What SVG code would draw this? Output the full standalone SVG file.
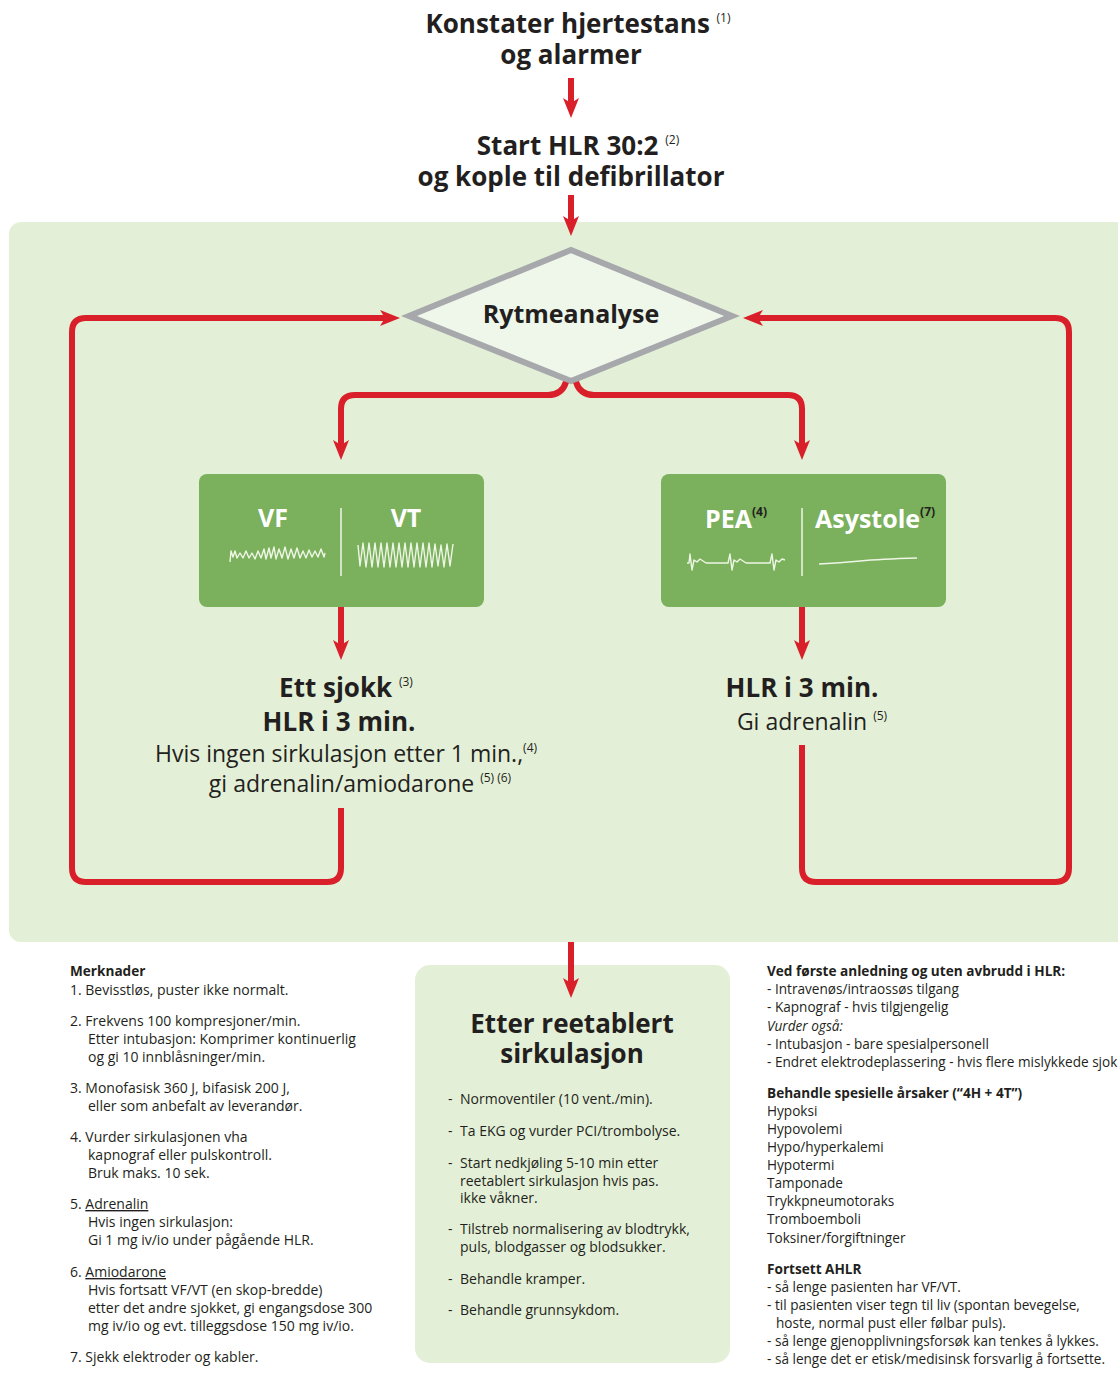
<svg xmlns="http://www.w3.org/2000/svg" width="1118" height="1384" viewBox="0 0 1118 1384">
  <style>
    text { font-family: "Open Sans", "Noto Sans", "Liberation Sans", sans-serif; fill: #231f20; }
    .hc { font-size: 26px; font-weight: 700; text-anchor: middle; }
    .sub { font-size: 23px; text-anchor: middle; }
    .sup { font-size: 12px; font-weight: 400; }
    .note { font-size: 14px; }
    .rn { font-size: 13.6px; }
    .nb { font-size: 13.6px; font-weight: 700; }
    .ni { font-size: 13.6px; font-style: italic; }
    .box { fill: #7bb05c; }
    .lbl { font-size: 25px; font-weight: 700; fill: #ffffff; }
    .lsup { font-size: 12px; font-weight: 700; fill: #231f20; }
    .ecg { fill: none; stroke: #eef6e6; stroke-width: 1.4; stroke-linejoin: round; }
    .flow { fill: none; stroke: #d9202a; stroke-width: 6; stroke-linejoin: round; }
  </style>
  <defs>
    <marker id="ah" viewBox="0 0 20 16" refX="6" refY="8" markerWidth="20" markerHeight="16" markerUnits="userSpaceOnUse" orient="auto">
      <path d="M0,0 L20,8 L0,16 L5,8 z" fill="#d9202a"/>
    </marker>
  </defs>

  <rect width="1118" height="1384" fill="#ffffff"/>

  <!-- main algorithm panel -->
  <rect x="9" y="222" width="1130" height="720" rx="12" fill="#e3f0d7"/>

  <!-- step 1 -->
  <g id="konstater">
    <text class="hc" x="578" y="33">Konstater hjertestans <tspan class="sup" dy="-11">(1)</tspan></text>
    <text class="hc" x="571" y="64">og alarmer</text>
  </g>

  <!-- step 2 -->
  <g id="start-hlr">
    <text class="hc" x="578" y="155">Start HLR 30:2 <tspan class="sup" dy="-11">(2)</tspan></text>
    <text class="hc" x="571" y="186">og kople til defibrillator</text>
  </g>

  <!-- decision -->
  <g id="rytmeanalyse">
    <polygon points="571,250 732,316 571,381 409,316" fill="#eff6ea" stroke="#a6a8ab" stroke-width="6" stroke-linejoin="miter"/>
    <text class="hc" x="571" y="323" style="font-size:25px">Rytmeanalyse</text>
  </g>

  <!-- shockable rhythms -->
  <g id="vf-vt">
    <rect class="box" x="199" y="474" width="285" height="133" rx="8"/>
    <line x1="341" y1="508" x2="341" y2="576" stroke="#eef6e6" stroke-width="1.5"/>
    <text class="lbl" x="273" y="527" text-anchor="middle">VF</text>
    <text class="lbl" x="406" y="527" text-anchor="middle">VT</text>
    <polyline class="ecg" points="230,562 231,551 233,557 235,551 237,558 240,553 243,558 246,551 249,558 252,553 255,559 258,551 261,558 264,549 266,559 269,548 271,558 274,547 276,559 279,549 282,558 285,547 288,559 291,549 294,558 297,548 300,558 303,551 306,558 309,550 312,557 315,551 318,557 321,549 324,557 325,553"/>
    <polyline class="ecg" points="358,545 360,566 363,543 366,567 369,543 372,567 375,543 378,567 381,543 384,567 387,543 390,567 393,543 396,567 399,543 402,567 405,543 408,567 411,543 414,567 417,543 420,567 423,543 426,567 429,543 432,567 435,544 438,566 441,545 444,567 447,544 450,566 453,544"/>
  </g>

  <!-- non-shockable rhythms -->
  <g id="pea-asystole">
    <rect class="box" x="661" y="474" width="285" height="133" rx="8"/>
    <line x1="802" y1="508" x2="802" y2="576" stroke="#eef6e6" stroke-width="1.5"/>
    <text class="lbl" x="705" y="528">PEA<tspan class="lsup" dy="-12">(4)</tspan></text>
    <text class="lbl" x="815" y="528">Asystole<tspan class="lsup" dy="-12">(7)</tspan></text>
    <polyline class="ecg" points="687,563 689,563 690,554 692,570 694,560 697,562 700,559 703,561 706,563 728,563 730,554 732,570 734,560 737,562 740,559 743,561 746,563 770,563 772,554 774,570 776,560 779,562 782,559 785,560"/>
    <path class="ecg" d="M819,564 Q840,563 860,561 T917,558"/>
  </g>

  <!-- shockable branch action -->
  <g id="ett-sjokk">
    <text class="hc" x="346" y="697">Ett sjokk <tspan class="sup" dy="-11">(3)</tspan></text>
    <text class="hc" x="339" y="731">HLR i 3 min.</text>
    <text class="sub" x="346" y="762">Hvis ingen sirkulasjon etter 1 min.,<tspan class="sup" dy="-10">(4)</tspan></text>
    <text class="sub" x="360" y="792">gi adrenalin/amiodarone <tspan class="sup" dy="-10">(5) (6)</tspan></text>
  </g>

  <!-- non-shockable branch action -->
  <g id="hlr-adrenalin">
    <text class="hc" x="802" y="697">HLR i 3 min.</text>
    <text class="sub" x="812" y="730">Gi adrenalin <tspan class="sup" dy="-10">(5)</tspan></text>
  </g>

  <!-- notes -->
  <g id="merknader">
    <text class="nb" x="70" y="976">Merknader</text>
    <text class="note" x="70" y="995">1. Bevisstløs, puster ikke normalt.</text>
    <text class="note" x="70" y="1026">2. Frekvens 100 kompresjoner/min.</text>
    <text class="note" x="88" y="1044">Etter intubasjon: Komprimer kontinuerlig</text>
    <text class="note" x="88" y="1062">og gi 10 innblåsninger/min.</text>
    <text class="note" x="70" y="1093">3. Monofasisk 360 J, bifasisk 200 J,</text>
    <text class="note" x="88" y="1111">eller som anbefalt av leverandør.</text>
    <text class="note" x="70" y="1142">4. Vurder sirkulasjonen vha</text>
    <text class="note" x="88" y="1160">kapnograf eller pulskontroll.</text>
    <text class="note" x="88" y="1178">Bruk maks. 10 sek.</text>
    <text class="note" x="70" y="1209">5. <tspan text-decoration="underline">Adrenalin</tspan></text>
    <text class="note" x="88" y="1227">Hvis ingen sirkulasjon:</text>
    <text class="note" x="88" y="1245">Gi 1 mg iv/io under pågående HLR.</text>
    <text class="note" x="70" y="1277">6. <tspan text-decoration="underline">Amiodarone</tspan></text>
    <text class="note" x="88" y="1295">Hvis fortsatt VF/VT (en skop-bredde)</text>
    <text class="note" x="88" y="1313">etter det andre sjokket, gi engangsdose 300</text>
    <text class="note" x="88" y="1331">mg iv/io og evt. tilleggsdose 150 mg iv/io.</text>
    <text class="note" x="70" y="1362">7. Sjekk elektroder og kabler.</text>
  </g>

  <!-- post-resuscitation care -->
  <g id="etter-reetablert">
    <rect x="415" y="965" width="315" height="398" rx="15" fill="#e3f0d7"/>
    <text class="hc" x="572" y="1033">Etter reetablert</text>
    <text class="hc" x="572" y="1063">sirkulasjon</text>
    <text class="note" x="448" y="1104">-</text><text class="note" x="460" y="1104">Normoventiler (10 vent./min).</text>
    <text class="note" x="448" y="1136">-</text><text class="note" x="460" y="1136">Ta EKG og vurder PCI/trombolyse.</text>
    <text class="note" x="448" y="1168">-</text><text class="note" x="460" y="1168">Start nedkjøling 5-10 min etter</text>
    <text class="note" x="460" y="1186">reetablert sirkulasjon hvis pas.</text>
    <text class="note" x="460" y="1203">ikke våkner.</text>
    <text class="note" x="448" y="1234">-</text><text class="note" x="460" y="1234">Tilstreb normalisering av blodtrykk,</text>
    <text class="note" x="460" y="1252">puls, blodgasser og blodsukker.</text>
    <text class="note" x="448" y="1284">-</text><text class="note" x="460" y="1284">Behandle kramper.</text>
    <text class="note" x="448" y="1315">-</text><text class="note" x="460" y="1315">Behandle grunnsykdom.</text>
  </g>

  <!-- additional measures -->
  <g id="tiltak">
    <text class="nb" x="767" y="976">Ved første anledning og uten avbrudd i HLR:</text>
    <text class="rn" x="767" y="994">- Intravenøs/intraossøs tilgang</text>
    <text class="rn" x="767" y="1012">- Kapnograf - hvis tilgjengelig</text>
    <text class="ni" x="767" y="1031">Vurder også:</text>
    <text class="rn" x="767" y="1049">- Intubasjon - bare spesialpersonell</text>
    <text class="rn" x="767" y="1067">- Endret elektrodeplassering - hvis flere mislykkede sjokk</text>
    <text class="nb" x="767" y="1098">Behandle spesielle årsaker (“4H + 4T”)</text>
    <text class="rn" x="767" y="1116">Hypoksi</text>
    <text class="rn" x="767" y="1134">Hypovolemi</text>
    <text class="rn" x="767" y="1152">Hypo/hyperkalemi</text>
    <text class="rn" x="767" y="1170">Hypotermi</text>
    <text class="rn" x="767" y="1188">Tamponade</text>
    <text class="rn" x="767" y="1206">Trykkpneumotoraks</text>
    <text class="rn" x="767" y="1224">Tromboemboli</text>
    <text class="rn" x="767" y="1243">Toksiner/forgiftninger</text>
    <text class="nb" x="767" y="1274">Fortsett AHLR</text>
    <text class="rn" x="767" y="1292">- så lenge pasienten har VF/VT.</text>
    <text class="rn" x="767" y="1310">- til pasienten viser tegn til liv (spontan bevegelse,</text>
    <text class="rn" x="776" y="1328">hoste, normal pust eller følbar puls).</text>
    <text class="rn" x="767" y="1346">- så lenge gjenopplivningsforsøk kan tenkes å lykkes.</text>
    <text class="rn" x="767" y="1364">- så lenge det er etisk/medisinsk forsvarlig å fortsette.</text>
  </g>

  <!-- connectors, drawn last so arrowheads sit on top of the boxes -->
  <g id="connectors">
    <path class="flow" d="M571,78 V104" marker-end="url(#ah)"/>
    <path class="flow" d="M571,195 V222" marker-end="url(#ah)"/>
    <path class="flow" d="M566,382 Q562,395 548,395 H355 Q341,395 341,409 V446" marker-end="url(#ah)"/>
    <path class="flow" d="M576,382 Q580,395 594,395 H788 Q802,395 802,409 V446" marker-end="url(#ah)"/>
    <path class="flow" d="M341,607 V646" marker-end="url(#ah)"/>
    <path class="flow" d="M802,607 V646" marker-end="url(#ah)"/>
    <path class="flow" d="M341,808 V868 Q341,882 327,882 H86 Q72,882 72,868 V332 Q72,318 86,318 H386" marker-end="url(#ah)"/>
    <path class="flow" d="M802,745 V868 Q802,882 816,882 H1055 Q1069,882 1069,868 V332 Q1069,318 1055,318 H757" marker-end="url(#ah)"/>
    <path class="flow" d="M571,942 V984" marker-end="url(#ah)"/>
  </g>
</svg>
